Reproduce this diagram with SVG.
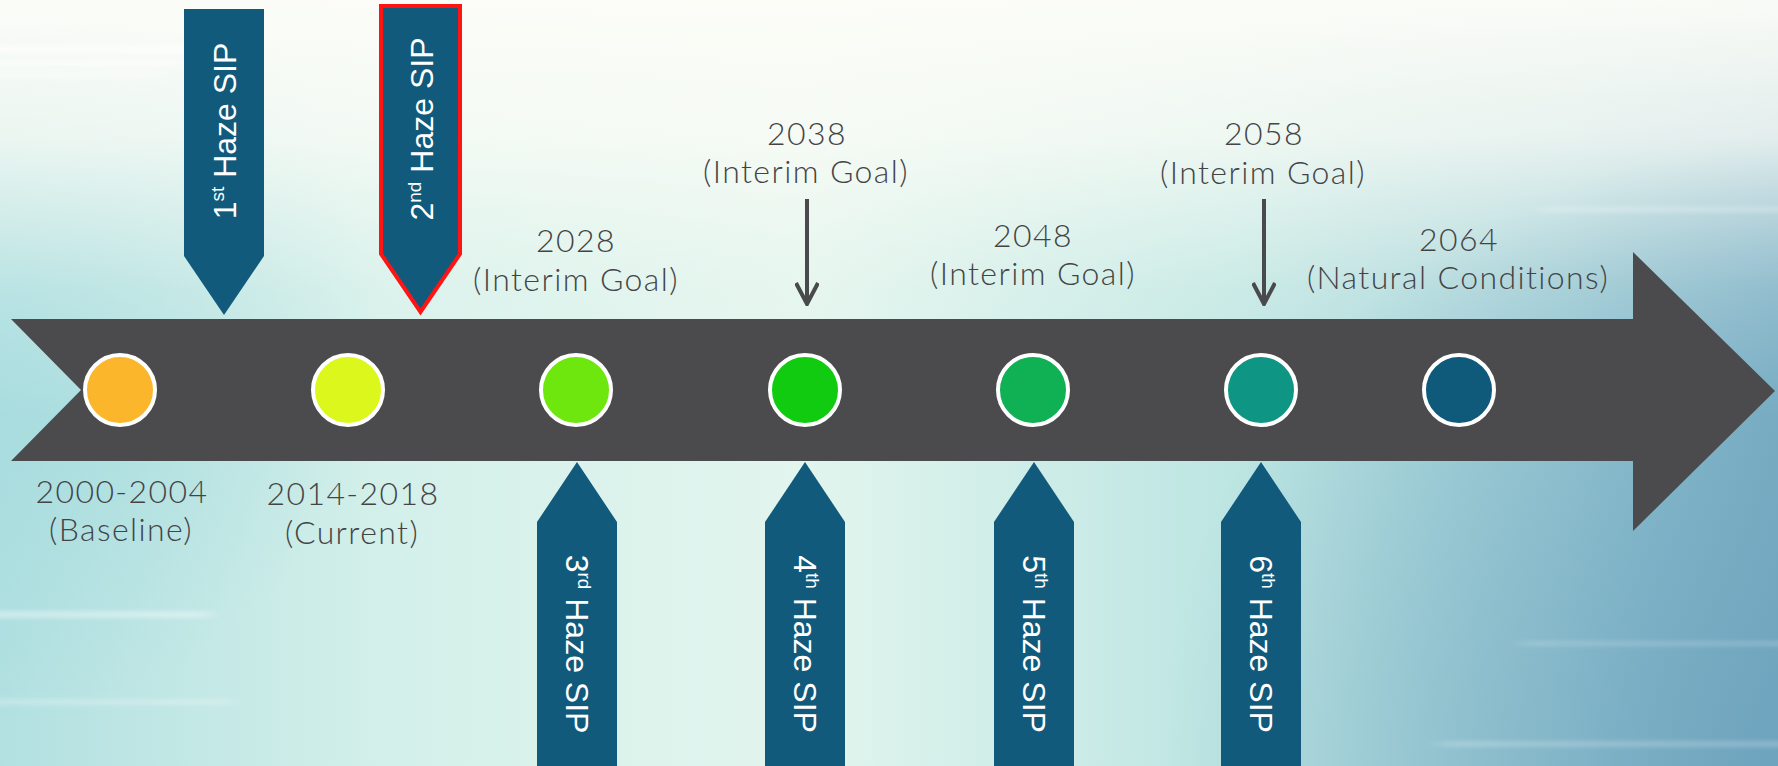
<svg xmlns="http://www.w3.org/2000/svg" width="1778" height="766" viewBox="0 0 1778 766">
  <defs>
    <linearGradient id="bgBase" x1="0" y1="0" x2="1" y2="0">
      <stop offset="0" stop-color="#b2e0e1"/>
      <stop offset="0.22" stop-color="#d4f0ea"/>
      <stop offset="0.45" stop-color="#e2f5ee"/>
      <stop offset="0.7" stop-color="#bce5e2"/>
      <stop offset="0.88" stop-color="#9acbd5"/>
      <stop offset="1" stop-color="#7cb1c6"/>
    </linearGradient>
    <linearGradient id="bgTop" x1="0" y1="0" x2="0" y2="1">
      <stop offset="0" stop-color="#fdfdf8" stop-opacity="0.97"/>
      <stop offset="0.18" stop-color="#fbfcf6" stop-opacity="0.8"/>
      <stop offset="0.38" stop-color="#f4faf3" stop-opacity="0.25"/>
      <stop offset="0.55" stop-color="#ffffff" stop-opacity="0"/>
    </linearGradient>
    <radialGradient id="bgCorner" cx="1778" cy="766" r="620" gradientUnits="userSpaceOnUse">
      <stop offset="0" stop-color="#6a9fbb" stop-opacity="0.75"/>
      <stop offset="1" stop-color="#6a9fbb" stop-opacity="0"/>
    </radialGradient>
    <radialGradient id="bgLeft" cx="0" cy="330" r="380" gradientUnits="userSpaceOnUse">
      <stop offset="0" stop-color="#a2dadd" stop-opacity="0.8"/>
      <stop offset="1" stop-color="#a2dadd" stop-opacity="0"/>
    </radialGradient>
    <filter id="soft" x="-20%" y="-500%" width="140%" height="1100%">
      <feGaussianBlur stdDeviation="10 2.5"/>
    </filter>
    <marker id="chevron" viewBox="0 0 24 24" refX="22" refY="12" markerWidth="24" markerHeight="24" markerUnits="userSpaceOnUse" orient="auto">
      <path d="M1 1 L22 12 L1 23" fill="none" stroke="#4a4a4c" stroke-width="4"/>
    </marker>
    <style>
      .bar { fill: #4b4b4d; }
      .sip { fill: #115a7b; }
      .sip-red { fill: #115a7b; stroke: #ff1414; stroke-width: 4; stroke-linejoin: miter; }
      .dot { stroke: #ffffff; stroke-width: 4; }
      .sip-label { font-family: "Liberation Sans", Arial, sans-serif; font-size: 32px; fill: #ffffff; text-anchor: middle; }
      .sup { font-size: 19px; }
      .date { font-family: Lato, "Open Sans", sans-serif; font-weight: 300; font-size: 32px; letter-spacing: 1.4px; fill: #444446; text-anchor: middle; }
      .pointer { fill: none; stroke: #4a4a4c; stroke-width: 4; }
      .streak { fill: #ffffff; filter: url(#soft); }
    </style>
  </defs>

  <!-- sky-like backdrop -->
  <g id="background">
    <rect x="0" y="0" width="1778" height="766" fill="url(#bgBase)"/>
    <rect x="0" y="0" width="1778" height="766" fill="url(#bgLeft)"/>
    <rect x="0" y="0" width="1778" height="766" fill="url(#bgTop)"/>
    <rect x="0" y="0" width="1778" height="766" fill="url(#bgCorner)"/>
    <rect class="streak" x="-30" y="46" width="230" height="7" opacity="0.7"/>
    <rect class="streak" x="-30" y="60" width="210" height="6" opacity="0.6"/>
    <rect class="streak" x="-30" y="72" width="190" height="5" opacity="0.5"/>
    <rect class="streak" x="-30" y="612" width="240" height="5" opacity="0.5"/>
    <rect class="streak" x="-30" y="700" width="260" height="4" opacity="0.35"/>
    <rect class="streak" x="1540" y="208" width="260" height="3" opacity="0.45"/>
    <rect class="streak" x="1520" y="642" width="280" height="3" opacity="0.3"/>
    <rect class="streak" x="1440" y="742" width="360" height="4" opacity="0.3"/>
  </g>

  <!-- timeline arrow -->
  <g id="timeline">
    <path class="bar" d="M11 319 H1633 V252 L1775 391 L1633 531 V461 H11 L81 390 Z"/>
  </g>

  <!-- milestone dots -->
  <g id="dot-2000"><circle class="dot" cx="120" cy="390" r="35" fill="#fbb62c"/></g>
  <g id="dot-2014"><circle class="dot" cx="348" cy="390" r="35" fill="#dcf71b"/></g>
  <g id="dot-2028"><circle class="dot" cx="576" cy="390" r="35" fill="#6de70e"/></g>
  <g id="dot-2038"><circle class="dot" cx="805" cy="390" r="35" fill="#10cb10"/></g>
  <g id="dot-2048"><circle class="dot" cx="1033" cy="390" r="35" fill="#10b055"/></g>
  <g id="dot-2058"><circle class="dot" cx="1261" cy="390" r="35" fill="#0f9583"/></g>
  <g id="dot-2064"><circle class="dot" cx="1459" cy="390" r="35" fill="#0f597b"/></g>

  <!-- SIP markers above the timeline -->
  <g id="sip-1">
    <path class="sip" d="M184 9 H264 V256 L224 315 L184 256 Z"/>
    <text class="sip-label" transform="translate(224 131) rotate(-90)" y="11.5">1<tspan class="sup" dy="-12">st</tspan><tspan dy="12"> Haze SIP</tspan></text>
  </g>
  <g id="sip-2">
    <path class="sip-red" d="M381 6 H460 V254 L420.5 312 L381 254 Z"/>
    <text class="sip-label" transform="translate(421 129) rotate(-90)" y="11.5">2<tspan class="sup" dy="-12">nd</tspan><tspan dy="12"> Haze SIP</tspan></text>
  </g>

  <!-- SIP markers below the timeline -->
  <g id="sip-3">
    <path class="sip" d="M537 770 V522 L577 462 L617 522 V770 Z"/>
    <text class="sip-label" transform="translate(577 644) rotate(90)" y="11.5">3<tspan class="sup" dy="-12">rd</tspan><tspan dy="12"> Haze SIP</tspan></text>
  </g>
  <g id="sip-4">
    <path class="sip" d="M765 770 V522 L805 462 L845 522 V770 Z"/>
    <text class="sip-label" transform="translate(805 644) rotate(90)" y="11.5">4<tspan class="sup" dy="-12">th</tspan><tspan dy="12"> Haze SIP</tspan></text>
  </g>
  <g id="sip-5">
    <path class="sip" d="M994 770 V522 L1034 462 L1074 522 V770 Z"/>
    <text class="sip-label" transform="translate(1034 644) rotate(90)" y="11.5">5<tspan class="sup" dy="-12">th</tspan><tspan dy="12"> Haze SIP</tspan></text>
  </g>
  <g id="sip-6">
    <path class="sip" d="M1221 770 V522 L1261 462 L1301 522 V770 Z"/>
    <text class="sip-label" transform="translate(1261 644) rotate(90)" y="11.5">6<tspan class="sup" dy="-12">th</tspan><tspan dy="12"> Haze SIP</tspan></text>
  </g>

  <!-- date labels -->
  <g id="label-2000">
    <text class="date" x="122" y="503">2000-2004</text>
    <text class="date" x="121" y="541">(Baseline)</text>
  </g>
  <g id="label-2014">
    <text class="date" x="353" y="505">2014-2018</text>
    <text class="date" x="352" y="544">(Current)</text>
  </g>
  <g id="label-2028">
    <text class="date" x="576" y="252">2028</text>
    <text class="date" x="576" y="291">(Interim Goal)</text>
  </g>
  <g id="label-2038">
    <text class="date" x="807" y="145">2038</text>
    <text class="date" x="806" y="183">(Interim Goal)</text>
  </g>
  <g id="label-2048">
    <text class="date" x="1033" y="247">2048</text>
    <text class="date" x="1033" y="285">(Interim Goal)</text>
  </g>
  <g id="label-2058">
    <text class="date" x="1264" y="145">2058</text>
    <text class="date" x="1263" y="184">(Interim Goal)</text>
  </g>
  <g id="label-2064">
    <text class="date" x="1459" y="251">2064</text>
    <text class="date" x="1458" y="289">(Natural Conditions)</text>
  </g>

  <!-- pointers from interim goal labels down to the timeline -->
  <g id="connectors">
    <path class="pointer" d="M807 199 V304" marker-end="url(#chevron)"/>
    <path class="pointer" d="M1264 199 V304" marker-end="url(#chevron)"/>
  </g>
</svg>
